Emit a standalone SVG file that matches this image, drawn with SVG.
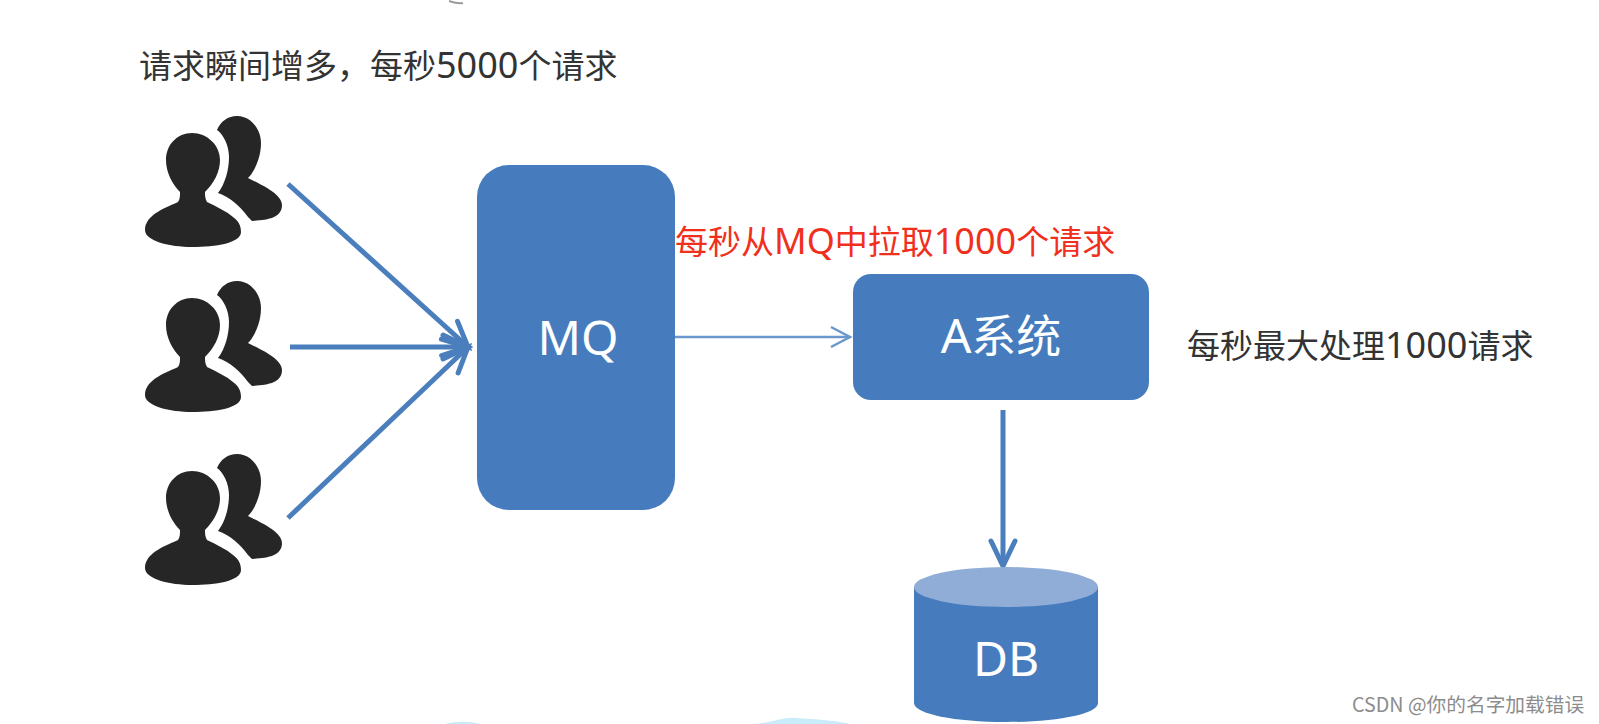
<svg xmlns="http://www.w3.org/2000/svg" width="1599" height="724" viewBox="0 0 1599 724">
<style>
text{font-family:"Noto Sans CJK SC","Noto Sans",sans-serif}
.dark{fill:#333;font-size:33px}
.n{font-size:36px;font-family:"Noto Sans",sans-serif}
.white{fill:#fff;font-size:45px;text-anchor:middle}
.w{font-size:48px;font-family:"Noto Sans",sans-serif}
.box{fill:#467cbe}
.p{fill:#262626}
.c{fill:none;stroke:#4a7ebd;stroke-width:5}
</style>
<defs>
<filter id="soft" x="-5%" y="-5%" width="110%" height="110%"><feGaussianBlur stdDeviation="0.7"/></filter>
<marker id="ah" markerUnits="userSpaceOnUse" markerWidth="34" markerHeight="34" refX="29" refY="17" orient="auto"><path d="M4 5L29 17L4 29" fill="none" stroke="#4a7ebd" stroke-width="5" stroke-linecap="round"/></marker>
<marker id="ahs" markerUnits="userSpaceOnUse" markerWidth="30" markerHeight="30" refX="24" refY="15" orient="auto"><path d="M5 5L24 15L5 25" fill="none" stroke="#6a97cc" stroke-width="2.5"/></marker>
<g id="u" filter="url(#soft)">
<path class="p" d="M192 133C177 133 166 145 166 160C166 172 172 184 180 192C180 196 180 199 178 202C168 207 145 214 145 230C145 241 170 247 192 247C216 247 241 243 241 232C241 222 235 219 233 217C226 211 217 207 207 202C205 199 205 195 205 192C214 183 220 172 220 160C220 145 207 133 192 133Z"/>
<path class="p" d="M237 116C228 116 221 121 217 130C223 134 229 145 229 157C229 170 225 184 218 193C230 197 240 206 248 217L252 221C265 220 282 219 282 205C282 194 262 185 248 178C255 171 261 157 261 143C261 128 250 116 237 116Z"/>
</g>
</defs>
<rect width="1599" height="724" fill="#fff"/>
<path d="M449 1C455 3 459 4 463 3" fill="none" stroke="#9a9a9a" stroke-width="2"/>
<path d="M445 724C455 721 470 721 480 724ZM755 724C775 722 785 717 795 718C815 719 840 721 850 724Z" fill="#c9ecfa"/>
<text class="dark" x="139" y="78">请求瞬间增多，每秒<tspan class="n">5000</tspan>个请求</text>
<g id="user1"><use href="#u"/></g>
<g id="user2"><use href="#u" y="165"/></g>
<g id="user3"><use href="#u" y="338"/></g>
<g id="connectors">
<line class="c" x1="288" y1="184" x2="468" y2="347" marker-end="url(#ah)"/>
<line class="c" x1="290" y1="347" x2="468" y2="347" marker-end="url(#ah)"/>
<line class="c" x1="288" y1="518" x2="468" y2="347" marker-end="url(#ah)"/>
<line x1="675" y1="337" x2="850" y2="337" stroke="#6a97cc" stroke-width="2.5" marker-end="url(#ahs)"/>
<line class="c" x1="1003" y1="410" x2="1003" y2="566" marker-end="url(#ah)"/>
</g>
<g id="mq"><rect class="box" x="477" y="165" width="198" height="345" rx="32"/><text class="white w" x="578" y="355">MQ</text></g>
<text x="675" y="254" fill="#f0301c" font-size="33">每秒从<tspan class="n">MQ</tspan>中拉取<tspan class="n">1000</tspan>个请求</text>
<g id="a"><rect class="box" x="853" y="274" width="296" height="126" rx="18"/><text class="white" x="1001" y="353"><tspan class="w">A</tspan>系统</text></g>
<text class="dark" x="1187" y="358">每秒最大处理<tspan class="n">1000</tspan>请求</text>
<g id="db"><path class="box" d="M914 587V703C914 714 955 722 1006 722C1057 722 1098 714 1098 703V587Z"/><ellipse cx="1006" cy="587" rx="92" ry="20" fill="#8fadd6"/><text class="white w" x="1006" y="676">DB</text></g>
<text x="1352" y="712" fill="#8c8c8c" font-size="19.7">CSDN @你的名字加载错误</text>
</svg>
